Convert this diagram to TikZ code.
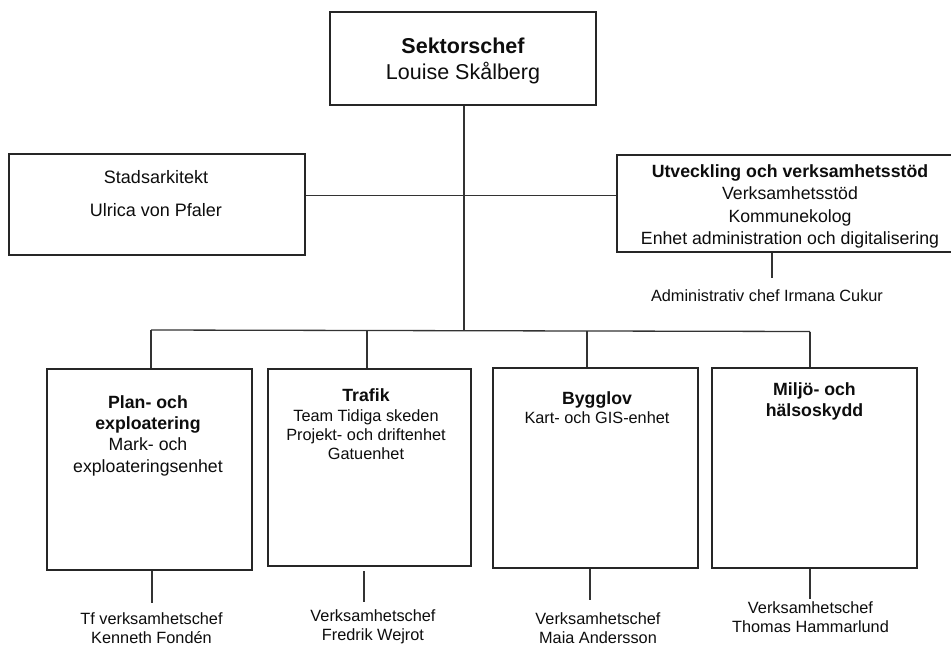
\documentclass[tikz,border=0pt]{standalone}
\usepackage{fontspec}
\setmainfont{Liberation Sans}
\begin{document}
\begin{tikzpicture}[x=1pt,y=-1pt,
  box/.style={draw=black!85,line width=1.6pt,rectangle,inner sep=0pt,fill=none},
  conn/.style={draw=black!80,line width=1.3pt},
  txt/.style={anchor=base,inner sep=0pt,text=black!95},
  big/.style={font=\fontsize{21.5}{25}\selectfont},
  mid/.style={font=\fontsize{17.7}{21}\selectfont},
  sml/.style={font=\fontsize{16.3}{19.5}\selectfont}]
\clip (0,0) rectangle (951,645);
\fill[white] (0,0) rectangle (951,645);

% boxes
\node[box,minimum width=266pt,minimum height=93pt] (top) at (463,58.5) {};
\node[box,minimum width=296pt,minimum height=101pt] (left) at (157,204.5) {};
\node[box,minimum width=346pt,minimum height=97pt] (right) at (790,203.5) {};
\node[box,minimum width=205pt,minimum height=201pt] (b1) at (149.5,469.5) {};
\node[box,minimum width=203pt,minimum height=197pt] (b2) at (369.5,467.5) {};
\node[box,minimum width=205pt,minimum height=200pt] (b3) at (595.5,468) {};
\node[box,minimum width=205pt,minimum height=200pt] (b4) at (814.5,468) {};

% texts in boxes
\node[txt,big] (t1) at (463,53) {\bfseries Sektorschef};
\node[txt,big] (t2) at (463,79) {Louise Skålberg};

\node[txt,font=\fontsize{18}{21}\selectfont] (l1) at (156,183) {Stadsarkitekt};
\node[txt,font=\fontsize{18}{21}\selectfont] (l2) at (156,216) {Ulrica von Pfaler};

\node[txt,mid] (r1) at (790,177) {\bfseries Utveckling och verksamhetsstöd};
\node[txt,mid] (r2) at (790,199.5) {Verksamhetsstöd};
\node[txt,mid] (r3) at (790,222) {Kommunekolog};
\node[txt,mid] (r4) at (790,244) {Enhet administration och digitalisering};

\node[txt,mid] (p1) at (148,408) {\bfseries Plan- och};
\node[txt,mid] (p2) at (148,429) {\bfseries exploatering};
\node[txt,mid] (p3) at (148,450) {Mark- och};
\node[txt,mid] (p4) at (148,472) {exploateringsenhet};

\node[txt,mid] (q1) at (366,401) {\bfseries Trafik};
\node[txt,sml] (q2) at (366,421) {Team Tidiga skeden};
\node[txt,sml] (q3) at (366,440) {Projekt- och driftenhet};
\node[txt,sml] (q4) at (366,459) {Gatuenhet};

\node[txt,mid] (s1) at (597,404) {\bfseries Bygglov};
\node[txt,sml] (s2) at (597,423) {Kart- och GIS-enhet};

\node[txt,mid] (m1) at (814.5,395) {\bfseries Miljö- och};
\node[txt,mid] (m2) at (814.5,416) {\bfseries hälsoskydd};

% labels below
\node[txt,sml] (adm) at (767,301) {Administrativ chef Irmana Cukur};
\node[txt,sml] (c1a) at (151.5,624) {Tf verksamhetschef};
\node[txt,sml] (c1b) at (151.5,643) {Kenneth Fondén};
\node[txt,sml] (c2a) at (373,621) {Verksamhetschef};
\node[txt,sml] (c2b) at (373,640) {Fredrik Wejrot};
\node[txt,sml] (c3a) at (598,624) {Verksamhetschef};
\node[txt,sml] (c3b) at (598,643) {Maia Andersson};
\node[txt,sml] (c4a) at (810.5,613) {Verksamhetschef};
\node[txt,sml] (c4b) at (810.5,632) {Thomas Hammarlund};

% connector coordinates
\coordinate (hy) at (0,195.5);
\coordinate (bm) at (464,330.5);
\coordinate (j1) at (151,330);
\coordinate (j2) at (367,330.5);
\coordinate (j3) at (587,331);
\coordinate (j4) at (810,331.5);
\coordinate (e1) at (152,603);
\coordinate (e2) at (364,602);
\coordinate (e3) at (590,600);
\coordinate (e4) at (810,599);
\coordinate (ea) at (772,278);

% connectors
\draw[conn] (top.south -| bm) -- (bm);
\draw[conn] (left.east |- hy) -- (right.west |- hy);
\draw[conn] (j1) -- (j4);
\draw[conn] (j1) -- (j1 |- b1.north);
\draw[conn] (j2) -- (j2 |- b2.north);
\draw[conn] (j3) -- (j3 |- b3.north);
\draw[conn] (j4) -- (j4 |- b4.north);
\draw[conn] (e1 |- b1.south) -- (e1);
\draw[conn] (e2 |- 0,571) -- (e2);
\draw[conn] (e3 |- b3.south) -- (e3);
\draw[conn] (e4 |- b4.south) -- (e4);
\draw[conn] (ea |- right.south) -- (ea);
\end{tikzpicture}
\end{document}
